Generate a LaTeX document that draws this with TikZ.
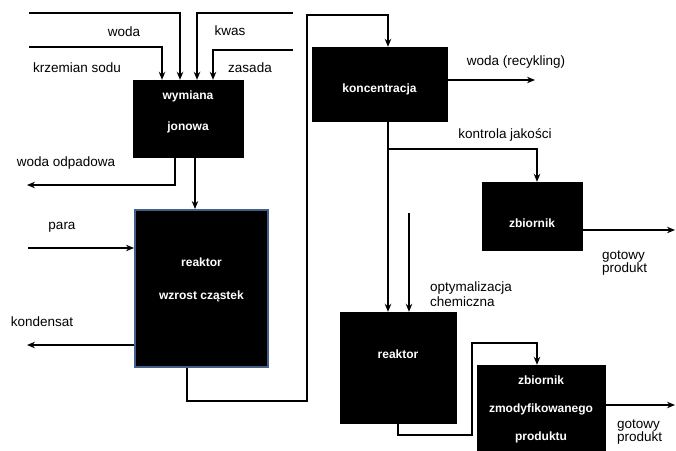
\documentclass[tikz,border=0pt]{standalone}
\usepackage{fontspec}
\setmainfont{Liberation Sans}
\usetikzlibrary{arrows.meta,positioning}
\definecolor{reakblue}{RGB}{66,96,138}
\tikzset{
  flow/.style={-{Stealth[length=8pt,width=6.5pt]}, line width=1.3pt},
  pipe/.style={line width=1.3pt},
  box/.style={fill=black, draw=black, inner sep=0pt},
  boxtxt/.style={text=white, font=\fontsize{12}{14}\selectfont\bfseries, align=center},
  lbl/.style={font=\fontsize{13.5}{14}\selectfont, inner sep=0pt, align=left},
}

\begin{document}
\begin{tikzpicture}[x=1pt,y=-1pt]
  \useasboundingbox (0,0) rectangle (676,450);

  % process units
  \node[box, minimum width=110pt, minimum height=77pt,
        label={[boxtxt,yshift=6.5pt]center:wymiana\\[17pt]jonowa}] (wym) at (188,118.5) {};
  \node[box, draw=reakblue, line width=2pt, minimum width=133pt, minimum height=157pt,
        label={[boxtxt,yshift=9pt]center:reaktor\\[19pt]wzrost cząstek}] (reak1) at (201.5,288.5) {};
  \node[box, minimum width=135pt, minimum height=74pt,
        label={[boxtxt,yshift=-5pt]center:koncentracja}] (konc) at (379.5,84) {};
  \node[box, minimum width=100pt, minimum height=68pt,
        label={[boxtxt,yshift=-7pt]center:zbiornik}] (zb) at (532,216) {};
  \node[box, minimum width=116pt, minimum height=111pt,
        label={[boxtxt,yshift=13.5pt]center:reaktor}] (reak2) at (398,367.5) {};
  \node[box, minimum width=128pt, minimum height=85pt,
        label={[boxtxt,yshift=-1.5pt]center:zbiornik\\[14pt]zmodyfikowanego\\[14pt]produktu}] (zmod) at (541,407.5) {};

  % stream labels
  \node[lbl] (lwoda) at (124,32) {woda};
  \node[lbl] (lkwas) at (230,31) {kwas};
  \node[lbl] (lkrz) at (77,68) {krzemian sodu};
  \node[lbl] (lzas) at (250,68) {zasada};
  \node[lbl] (lodp) at (66,163) {woda odpadowa};
  \node[lbl] (lpara) at (62,227) {para};
  \node[lbl] (lkond) at (42,322) {kondensat};
  \node[lbl] (lrec) at (516,62) {woda (recykling)};
  \node[lbl] (lkontr) at (505,135) {kontrola jakości};
  \node[lbl, anchor=west] (lopt) at (430,294) {optymalizacja\\[1pt]chemiczna};
  \node[lbl, anchor=west] (lgot1) at (602,263) {gotowy\\[-1pt]produkt};
  \node[lbl, anchor=west] (lgot2) at (617,432) {gotowy\\[-1pt]produkt};

  % free ends
  \coordinate (inwoda) at (29,13);
  \coordinate (inkrz) at (29,47);
  \coordinate (inkwas) at (293,13);
  \coordinate (inzas) at (293,50);
  \coordinate (outodp) at (27,185);
  \coordinate (inpara) at (28,248);
  \coordinate (outkond) at (27,345);
  \coordinate (outrec) at (535,80);
  \coordinate (branch) at (388,149);
  \coordinate (inopt) at (409,213);
  \coordinate (outgot1) at (675,230);
  \coordinate (outgot2) at (675,405);

  % feeds to ion exchange
  \draw[flow] (inwoda) -| ([xshift=-8pt]wym.north);
  \draw[flow] (inkrz) -| ([xshift=-26pt]wym.north);
  \draw[flow] (inkwas) -| ([xshift=9pt]wym.north);
  \draw[flow] (inzas) -| ([xshift=25pt]wym.north);
  \draw[flow] ([xshift=-13pt]wym.south) |- (outodp);
  \draw[flow] ([xshift=7pt]wym.south) -- ([xshift=7pt]wym.south |- reak1.north);

  % particle growth reactor
  \draw[flow] (inpara) -- (inpara -| reak1.west);
  \draw[flow] (outkond -| reak1.west) -- (outkond);
  \draw[flow] ([xshift=-14.5pt]reak1.south) |- (307,401) -- (307,15)
    -| ([xshift=8.5pt]konc.north);

  % concentration
  \draw[flow] (outrec -| konc.east) -- (outrec);
  \draw[flow] ([xshift=8.5pt]konc.south) -- ([xshift=8.5pt]konc.south |- reak2.north);
  \draw[flow] (branch) -| ([xshift=5pt]zb.north);
  \draw[flow] (inopt) -- (inopt |- reak2.north);
  \draw[flow] (outgot1 -| zb.east) -- (outgot1);

  % modified product
  \draw[flow] (reak2.south) |- (472,435) -- (472,343) -| ([xshift=-4pt]zmod.north);
  \draw[flow] (outgot2 -| zmod.east) -- (outgot2);
\end{tikzpicture}
\end{document}
